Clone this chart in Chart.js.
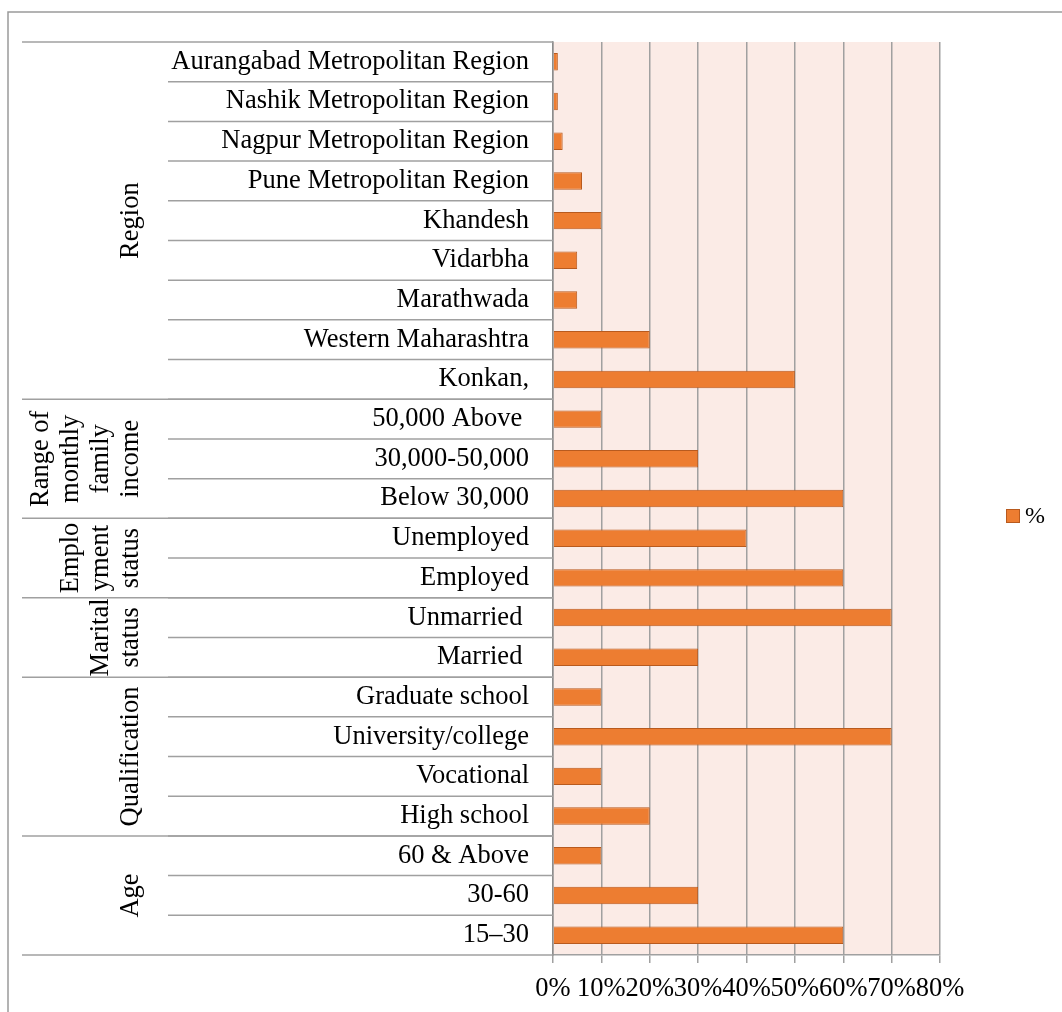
<!DOCTYPE html>
<html>
<head>
<meta charset="utf-8">
<script src="https://cdn.jsdelivr.net/npm/chart.js@4"></script>
<style>
  html, body { margin: 0; padding: 0; background: #fff; }
  #wrap { width: 1062px; height: 1012px; }
</style>
</head>
<body>
<div id="wrap"><canvas id="chart" width="1062" height="1012"></canvas></div>
<script>
// --- data, top to bottom as drawn ---
var categories = [
  'Aurangabad Metropolitan Region', 'Nashik Metropolitan Region', 'Nagpur Metropolitan Region',
  'Pune Metropolitan Region', 'Khandesh', 'Vidarbha', 'Marathwada', 'Western Maharashtra', 'Konkan,',
  '50,000 Above ', '30,000-50,000', 'Below 30,000',
  'Unemployed', 'Employed',
  'Unmarried ', 'Married ',
  'Graduate school', 'University/college', 'Vocational', 'High school',
  '60 & Above', '30-60', '15\u201330'
];
var percentValues = [1, 1, 2, 6, 10, 5, 5, 20, 50, 10, 30, 60, 40, 60, 70, 30, 10, 70, 10, 20, 10, 30, 60];
var groupLabels = [['Region'], ['Range of', 'monthly', 'family', 'income'], ['Emplo', 'yment', 'status'],
  ['Marital', 'status'], ['Qualification'], ['Age']];
var groupSizes = [9, 3, 2, 2, 4, 3];
var seriesName = '%';
var xTicks = [0, 10, 20, 30, 40, 50, 60, 70, 80];

// --- styles ---
var orange = '#ED7D31';
var orangeEdge = '#B85A1E';
var plotBg = '#FBEBE6';
var lineGrey = '#a0a0a0';
var fontFamily = "'Liberation Serif', 'Times New Roman', serif";
var fontSize = 26.5;

// background, outer frame, multi-level axis lines, group labels, legend
var framePlugin = {
  id: 'frame',
  beforeDraw: function (chart) {
    var ctx = chart.ctx;
    var area = chart.chartArea;
    ctx.save();
    ctx.fillStyle = '#fff';
    ctx.fillRect(0, 0, chart.width, chart.height);
    ctx.strokeStyle = '#9a9a9a';
    ctx.lineWidth = 1.5;
    ctx.beginPath();
    ctx.moveTo(8, chart.height);
    ctx.lineTo(8, 12);
    ctx.lineTo(chart.width, 12);
    ctx.stroke();
    ctx.fillStyle = plotBg;
    ctx.fillRect(area.left, area.top, area.right - area.left, area.bottom - area.top);
    ctx.restore();
  },
  afterDraw: function (chart) {
    var ctx = chart.ctx;
    var area = chart.chartArea;
    var yScale = chart.scales.y;
    var n = categories.length;
    function edge(i) {
      if (i <= 0) return area.top;
      if (i >= n) return area.bottom;
      return (yScale.getPixelForValue(i - 1) + yScale.getPixelForValue(i)) / 2;
    }
    ctx.save();
    ctx.strokeStyle = lineGrey;
    ctx.lineWidth = 1.5;
    // category separators
    for (var i = 1; i < n; i++) {
      var y = edge(i);
      ctx.beginPath();
      ctx.moveTo(168, y);
      ctx.lineTo(area.left, y);
      ctx.stroke();
    }
    // group separators and labels
    var start = 0;
    ctx.fillStyle = '#000';
    ctx.font = fontSize + 'px ' + fontFamily;
    ctx.textAlign = 'center';
    ctx.textBaseline = 'middle';
    for (var g = 0; g <= groupSizes.length; g++) {
      var gy = edge(start);
      ctx.beginPath();
      ctx.moveTo(22, gy);
      ctx.lineTo(area.left, gy);
      ctx.stroke();
      if (g === groupSizes.length) break;
      var end = start + groupSizes[g];
      var cy = (edge(start) + edge(end)) / 2;
      var lines = groupLabels[g];
      for (var k = 0; k < lines.length; k++) {
        var lx = 131 - (lines.length - 1 - k) * 30;
        ctx.save();
        ctx.translate(lx, cy);
        ctx.rotate(-Math.PI / 2);
        ctx.fillText(lines[k], 0, 0);
        ctx.restore();
      }
      start = end;
    }
    // legend
    ctx.fillStyle = orange;
    ctx.fillRect(1006, 509, 14, 14);
    ctx.strokeStyle = orangeEdge;
    ctx.lineWidth = 1;
    ctx.strokeRect(1006.5, 509.5, 13, 13);
    ctx.fillStyle = '#000';
    ctx.font = '24px ' + fontFamily;
    ctx.textAlign = 'left';
    ctx.fillText(seriesName, 1025, 517);
    ctx.restore();
  }
};

new Chart(document.getElementById('chart').getContext('2d'), {
  type: 'bar',
  data: {
    labels: categories,
    datasets: [{
      label: seriesName,
      data: percentValues,
      backgroundColor: orange,
      borderColor: orangeEdge,
      borderWidth: 1,
      categoryPercentage: 1,
      barPercentage: 0.44
    }]
  },
  options: {
    indexAxis: 'y',
    responsive: false,
    animation: false,
    devicePixelRatio: 1,
    layout: { padding: { top: 42, right: 122, left: 0, bottom: 0 } },
    scales: {
      x: {
        min: 0,
        max: 80,
        afterBuildTicks: function (scale) {
          scale.ticks = xTicks.map(function (v) { return { value: v }; });
        },
        afterFit: function (scale) { scale.height = 57; },
        grid: { color: lineGrey, lineWidth: 1.5, tickLength: 8 },
        border: { color: lineGrey, width: 1.5 },
        ticks: {
          color: '#000',
          padding: 10,
          maxRotation: 0,
          autoSkip: false,
          font: { family: fontFamily, size: fontSize },
          callback: function (v) { return v + '%'; }
        }
      },
      y: {
        afterFit: function (scale) { scale.width = 553; },
        grid: { display: false, drawTicks: false },
        border: { display: true, color: '#8c8c8c', width: 1.5 },
        ticks: {
          color: '#000',
          padding: 24,
          autoSkip: false,
          font: { family: fontFamily, size: fontSize }
        }
      }
    },
    plugins: {
      legend: { display: false },
      tooltip: { enabled: false }
    }
  },
  plugins: [framePlugin]
});
</script>
</body>
</html>
